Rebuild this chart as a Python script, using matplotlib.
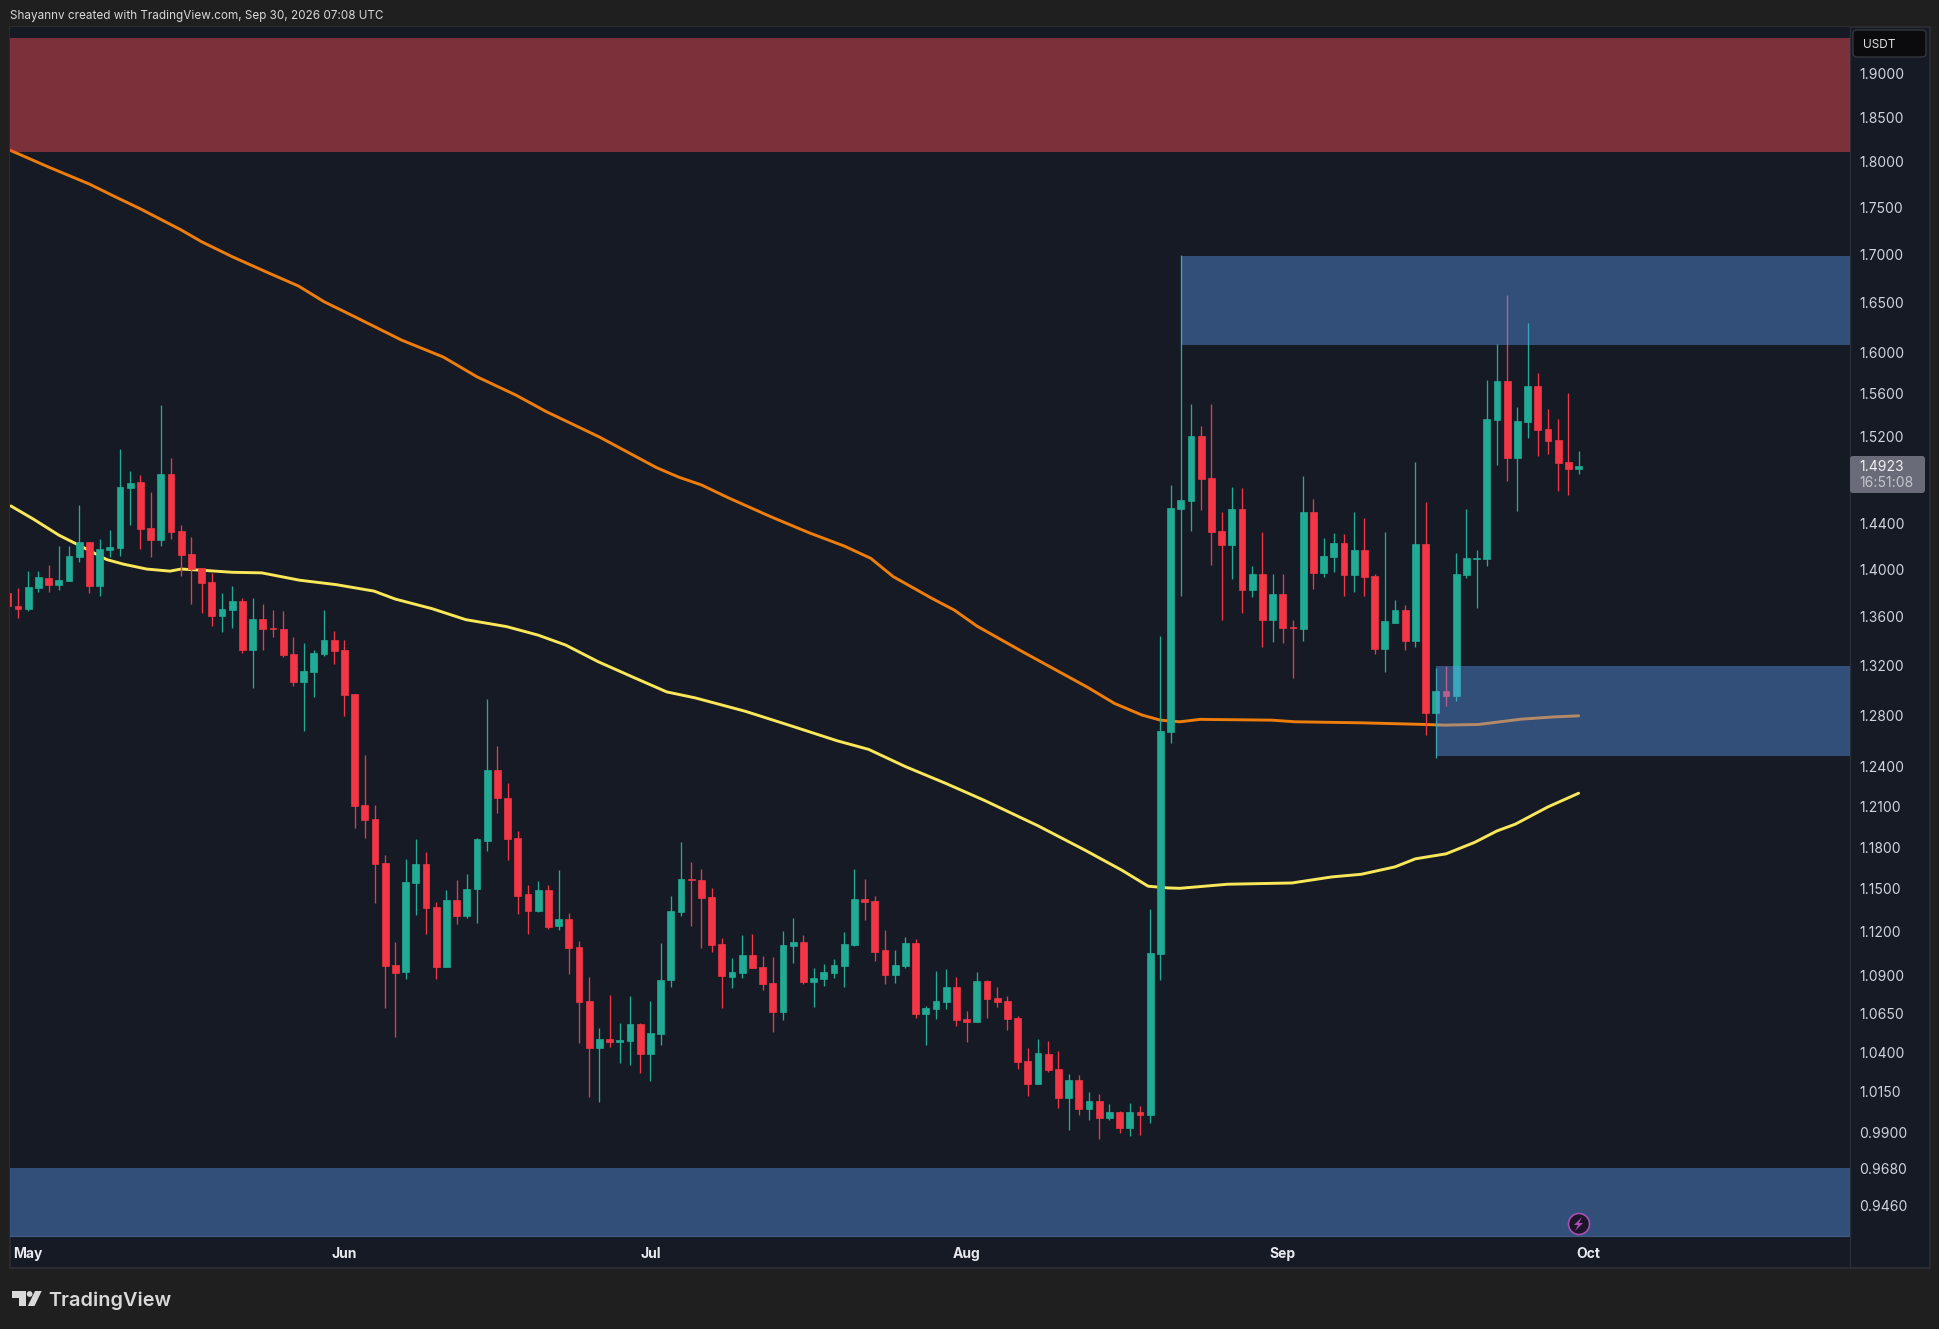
import numpy as np
import matplotlib
matplotlib.use("Agg")
import matplotlib.pyplot as plt
from matplotlib.patches import Rectangle, Polygon, Circle, FancyBboxPatch
from matplotlib.ticker import FixedLocator, FixedFormatter, NullLocator

plt.rcParams['font.family'] = ['Inter', 'DejaVu Sans']

# ---- daily candles, index 2 = 1 May -------------------------------------
opens = [1.380,1.3689,1.3664,1.3842,1.3926,1.3867,1.3901,1.411,1.424,1.3859,
 1.417,1.4187,1.472,1.478,1.436,1.4257,1.485,1.4336,1.4135,1.4012,
 1.3892,1.3605,1.3655,1.3732,1.3323,1.358,1.3504,1.3495,1.329,1.3061,
 1.3142,1.329,1.3405,1.3323,1.2966,1.2109,1.2004,1.1684,1.0973,1.0925,
 1.154,1.1677,1.1372,1.096,1.142,1.131,1.1497,1.1843,1.2374,1.2161,
 1.1865,1.1462,1.1344,1.149,1.124,1.1289,1.1095,1.0732,1.0426,1.0484,
 1.0464,1.0471,1.058,1.0387,1.0515,1.0871,1.1337,1.1568,1.1561,1.1441,
 1.1116,1.0891,1.0919,1.1041,1.096,1.0852,1.066,1.1102,1.113,1.0858,
 1.0878,1.0919,1.0966,1.1109,1.1427,1.1413,1.1075,1.0905,1.0966,1.1123,
 1.0646,1.068,1.0726,1.0825,1.0613,1.0593,1.0865,1.0752,1.0732,1.062,
 1.0343,1.0197,1.0387,1.0291,1.011,1.0221,1.0041,1.0091,.9985,1.0022,
 .9926,1.0022,1.0004,1.1048,1.2667,1.4532,1.4604,1.5201,1.4811,1.4336,
 1.4213,1.4532,1.3825,1.3961,1.3568,1.3791,1.3512,1.3495,1.4505,1.3969,
 1.411,1.4231,1.3952,1.417,1.3944,1.3331,1.3551,1.3655,1.3397,1.4222,
 1.2815,1.2989,1.295,1.3952,1.4092,1.4092,1.5351,1.5725,1.4997,1.5332,
 1.5676,1.5266,1.5164,1.496,1.4896]
closes = [1.369,1.3664,1.385,1.3935,1.3867,1.3909,1.4118,1.424,1.3859,1.4179,
 1.4196,1.473,1.477,1.4352,1.4257,1.485,1.4328,1.4127,1.4003,1.3884,
 1.3605,1.3664,1.3732,1.3323,1.358,1.3495,1.3495,1.3282,1.3061,1.315,
 1.33,1.3405,1.3315,1.2958,1.21,1.1997,1.1677,1.0966,1.0919,1.1547,
 1.1677,1.1365,1.096,1.142,1.131,1.1497,1.1858,1.2374,1.2161,1.1858,
 1.1448,1.1344,1.149,1.1233,1.1289,1.1089,1.0726,1.0426,1.0484,1.0464,
 1.0477,1.058,1.0387,1.0521,1.0871,1.1344,1.1568,1.1561,1.1434,1.1109,
 1.0898,1.0925,1.1041,1.0952,1.0845,1.066,1.1109,1.113,1.0858,1.0885,
 1.0925,1.0973,1.1116,1.1427,1.1406,1.1061,1.0905,1.0973,1.1123,1.0646,
 1.0686,1.0732,1.0825,1.0607,1.0593,1.0865,1.0746,1.0726,1.0613,1.0336,
 1.0197,1.0394,1.0285,1.011,1.0221,1.0041,1.0091,.9985,1.0022,.9926,
 1.0022,1.0004,1.1055,1.2675,1.4541,1.4613,1.5201,1.4802,1.4328,1.4213,
 1.4532,1.3825,1.3961,1.3568,1.3791,1.3504,1.3504,1.4505,1.3969,1.4118,
 1.4231,1.3952,1.417,1.3935,1.3331,1.356,1.3655,1.3397,1.4222,1.2815,
 1.2989,1.295,1.3961,1.4101,1.4101,1.536,1.5725,1.4997,1.5342,1.5676,
 1.5257,1.5155,1.495,1.4896,1.4923]
highs = [1.380,1.3842,1.3991,1.399,1.404,1.4205,1.4208,1.4568,1.4243,1.4266,
 1.4345,1.508,1.4875,1.484,1.4685,1.5494,1.4993,1.439,1.4284,1.4012,
 1.3969,1.380,1.3859,1.3757,1.3757,1.3706,1.3655,1.3647,1.343,1.338,
 1.3323,1.3655,1.3478,1.3405,1.2966,1.2488,1.2109,1.1742,1.113,1.1713,
 1.1858,1.1763,1.1406,1.149,1.1561,1.1604,1.1865,1.2926,1.2558,1.2273,
 1.1916,1.1526,1.1554,1.1526,1.1633,1.133,1.1136,1.0891,1.0554,1.0772,
 1.0587,1.0765,1.0587,1.0732,1.1123,1.1448,1.1836,1.1691,1.164,1.1504,
 1.1157,1.102,1.1177,1.1184,1.1034,1.1027,1.1205,1.1296,1.1177,1.0952,
 1.0979,1.1014,1.1198,1.164,1.1568,1.1448,1.1212,1.1075,1.1164,1.115,
 1.0699,1.0932,1.0945,1.0891,1.0666,1.0925,1.0871,1.0825,1.0765,1.0633,
 1.0426,1.0484,1.0471,1.0407,1.0259,1.0252,1.0147,1.0134,1.0072,1.0028,
 1.0078,1.006,1.1357,1.3438,1.4752,1.6994,1.5504,1.5295,1.5504,1.4505,
 1.473,1.4721,1.4031,1.4328,1.3961,1.3961,1.3576,1.483,1.4622,1.4275,
 1.4319,1.431,1.4505,1.4451,1.3961,1.4328,1.374,1.3698,1.496,1.4595,
 1.3175,1.3192,1.4144,1.4532,1.417,1.5734,1.6087,1.6581,1.5475,1.6296,
 1.5801,1.5456,1.536,1.561,1.5062]
lows = [1.369,1.3592,1.3647,1.3811,1.3808,1.3825,1.3901,1.4065,1.3804,1.3774,
 1.411,1.4118,1.439,1.4179,1.411,1.4205,1.4266,1.3943,1.3706,1.363,
 1.352,1.3471,1.3504,1.330,1.3014,1.3323,1.343,1.3266,1.303,1.2674,
 1.2942,1.3274,1.321,1.2791,1.1938,1.1865,1.1399,1.0686,1.0496,1.0878,
 1.1317,1.1184,1.0878,1.096,1.1254,1.1296,1.1261,1.177,1.205,1.1706,
 1.1324,1.1184,1.1337,1.1219,1.1212,1.0912,1.0458,1.0116,1.0085,1.0432,
 1.033,1.0317,1.0265,1.0215,1.0445,1.0825,1.131,1.124,1.1089,1.1061,
 1.0686,1.0818,1.0885,1.0952,1.0805,1.0528,1.0607,1.0986,1.0845,1.0693,
 1.0832,1.0885,1.0825,1.1102,1.1282,1.1,1.0845,1.0852,1.0952,1.062,
 1.0445,1.0613,1.068,1.0567,1.0464,1.0593,1.062,1.0693,1.0541,1.0291,
 1.0122,1.0197,1.0271,1.0047,.9914,1.0004,.9973,.9858,.9973,.9895,
 .9877,.9883,.9955,1.0871,1.258,1.3774,1.4336,1.4523,1.404,1.3576,
 1.3918,1.363,1.3766,1.3348,1.3389,1.338,1.3094,1.3397,1.3833,1.3935,
 1.3978,1.3774,1.3808,1.3774,1.329,1.3142,1.3543,1.3323,1.3348,1.2642,
 1.2465,1.2871,1.291,1.3926,1.3672,1.4031,1.4933,1.4784,1.4514,1.5183,
 1.5015,1.5034,1.4694,1.4658,1.485]

# ---- moving averages, read at these candle positions --------------------
ma_orange_x = [0,4,8,10.5,13,17,19,22,25.5,28.5,31,34,38.6,42.7,46,49.8,52.8,58,63.6,65.8,
 68,70.7,74.8,78.6,82,84.6,86.8,90.6,92.8,95,99.6,101.4,105.9,108.5,111.2,113,114.9,116.9,
 123.9,126.2,132.7,138.9,140.9,144.2,148.4,151.7,154]
ma_orange_y = [1.8139,1.7941,1.7754,1.7617,1.7485,1.7259,1.7134,1.6977,1.6811,1.6673,1.6513,1.6361,
 1.6127,1.5959,1.5766,1.5590,1.5431,1.5192,1.4908,1.4820,1.4750,1.4631,1.4464,1.4320,1.4205,1.4098,
 1.3940,1.3754,1.3655,1.3522,1.3304,1.3222,1.3019,1.2892,1.2800,1.2760,1.2747,1.2766,1.2760,1.2747,
 1.2739,1.2726,1.2721,1.2726,1.2768,1.2786,1.2794]
ma_yellow_x = [0.3,2.5,5,7.7,9.7,11.3,13.6,15.9,17,19.5,22,24.9,28.6,32.2,35.9,38,41.6,44.9,48.9,52,
 54.7,57.9,61.5,64.6,67.4,72.3,76.8,81.3,84.4,88,92,95.7,101,105.6,109.2,111.8,113.7,114.9,119.6,
 125.9,129.8,132.7,136,138,141,143.8,146,147.8,151,154]
ma_yellow_y = [1.4560,1.4443,1.4301,1.4179,1.4087,1.4048,1.4005,1.3987,1.4005,1.3992,1.3977,1.3972,
 1.3909,1.3871,1.3816,1.3748,1.3667,1.3575,1.3517,1.3446,1.3364,1.3227,1.3095,1.2984,1.2936,1.2830,
 1.2715,1.2599,1.2532,1.2400,1.2271,1.2146,1.1956,1.1778,1.1634,1.1519,1.1507,1.1504,1.1533,1.1542,
 1.1585,1.1604,1.1657,1.1715,1.1751,1.1834,1.1918,1.1968,1.2096,1.2198]

# ---- price zones --------------------------------------------------------
red_zone = (1.8109, 1.9426)
blue_upper = (115, 1.6078, 1.6984)
blue_middle = (140, 1.2481, 1.3193)
blue_lower = (0.9279, 0.9684)

# ---- axis labels --------------------------------------------------------
price_ticks = [1.9,1.85,1.8,1.75,1.7,1.65,1.6,1.56,1.52,1.44,1.40,1.36,1.32,1.28,1.24,1.21,
               1.18,1.15,1.12,1.09,1.065,1.04,1.015,0.99,0.968,0.946]
month_pos = [2,33,63,94,125,155]
month_labels = ['May','Jun','Jul','Aug','Sep','Oct']
last_price = '1.4923'
countdown = '16:51:08'

W, H = 1940, 1329
BG, PANEL, BORDER = '#1f1f1f', '#151a25', '#2a2e39'
UP, DOWN = '#22ab94', '#f23645'
ZONE_B, ZONE_R = '#60a0fa', '#f24a50'

fig = plt.figure(figsize=(W/100, H/100), dpi=100, facecolor=BG)
fx = lambda x: x/W
fy = lambda y: 1-y/H
def frect(x0, y0, x1, y1, **kw):
    fig.add_artist(Rectangle((fx(x0), fy(y1)), (x1-x0)/W, (y1-y0)/H, transform=fig.transFigure, **kw))
def pxcircle(x, y, r, **kw):
    fig.add_artist(Circle((x/100, (H-y)/100), r/100, transform=fig.dpi_scale_trans, **kw))

frect(10, 27, 1930, 1268, facecolor=PANEL, edgecolor='#2b2b2f', linewidth=1.5, zorder=-1)

ax = fig.add_axes([fx(10), fy(1236), 1840/W, 1209/H], facecolor=PANEL)
ax.set_yscale('log')
x0_idx = 1 - 8/10.2
x1_idx = 1 + 1832/10.2
ax.set_xlim(x0_idx, x1_idx)
ax.set_ylim(0.92857, 1.9558)

idx = np.arange(len(opens))
o, h, l, c = map(np.array, (opens, highs, lows, closes))
colors = np.where(c >= o, UP, DOWN)
ax.plot(ma_orange_x, ma_orange_y, color='#ef7d0a', lw=2.1, zorder=2, solid_capstyle='round')
ax.plot(ma_yellow_x, ma_yellow_y, color='#fbe75a', lw=2.1, zorder=2, solid_capstyle='round')
ax.vlines(idx, l, h, colors=colors, lw=0.95, zorder=3)
ax.bar(idx, np.abs(c-o), bottom=np.minimum(o, c), width=0.68, color=colors, edgecolor=colors, lw=0.5, zorder=4)

ax.fill_between([x0_idx, x1_idx], *red_zone, color=ZONE_R, alpha=0.47, lw=0, zorder=5)
ax.fill_between([blue_upper[0], x1_idx], blue_upper[1], blue_upper[2], color=ZONE_B, alpha=0.4, lw=0, zorder=5)
ax.fill_between([blue_middle[0], x1_idx], blue_middle[1], blue_middle[2], color=ZONE_B, alpha=0.4, lw=0, zorder=5)
ax.fill_between([x0_idx, x1_idx], *blue_lower, color=ZONE_B, alpha=0.4, lw=0, zorder=5)

for s in ('top', 'left'):
    ax.spines[s].set_visible(False)
for s in ('bottom', 'right'):
    ax.spines[s].set_color(BORDER)
    ax.spines[s].set_linewidth(1)
ax.yaxis.tick_right()
ax.yaxis.set_major_locator(FixedLocator(price_ticks))
ax.yaxis.set_major_formatter(FixedFormatter([f'{p:.4f}' for p in price_ticks]))
ax.yaxis.set_minor_locator(NullLocator())
ax.tick_params(axis='y', which='major', length=0, pad=6.6, labelsize=10, labelcolor='#d1d4dc')
ax.set_xticks(month_pos, month_labels)
ax.tick_params(axis='x', length=0, pad=7.6, labelsize=10, labelcolor='#e8e9ee')
for t in ax.get_xticklabels():
    t.set_fontweight('bold')

# vertical divider continues through the time scale
fig.add_artist(plt.Line2D([fx(1850)]*2, [fy(1236), fy(1268)], color=BORDER, lw=1, transform=fig.transFigure))

# header and footer
fig.text(fx(10), fy(15.5), 'Shayannv created with TradingView.com, Sep 30, 2026 07:08 UTC',
         color='#d8d8d8', fontsize=8.45, va='center', ha='left')

# currency box
fig.add_artist(FancyBboxPatch((fx(1853), fy(57)), 73/W, 27/H, transform=fig.transFigure,
                              boxstyle='round,pad=0,rounding_size=0.002', mutation_aspect=1.46,
                              facecolor='#0b0b0d', edgecolor='#35373d', linewidth=1, zorder=5))
fig.text(fx(1863), fy(45), 'USDT', color='#e0e0e0', fontsize=8.5, va='center', ha='left', zorder=6)

# last price box
fig.add_artist(FancyBboxPatch((fx(1850), fy(493)), 75/W, 37/H, transform=fig.transFigure,
                              boxstyle='round,pad=0,rounding_size=0.0015', mutation_aspect=1.46,
                              facecolor='#696c78', edgecolor='none', zorder=5))
fig.text(fx(1859), fy(467), last_price, color='#f0f0f2', fontsize=10, va='center', ha='left', zorder=6)
fig.text(fx(1859), fy(483), countdown, color='#c3c4cc', fontsize=10, va='center', ha='left', zorder=6)

# event badge
pxcircle(1579, 1224, 10.5, facecolor='#1c1526', edgecolor='#a64fb5', linewidth=1.2, zorder=6)
bolt = [(1582,1217),(1574,1225),(1578,1225),(1575,1231),(1583,1223),(1579,1223)]
fig.add_artist(Polygon([(fx(a), fy(b)) for a, b in bolt], closed=True, transform=fig.transFigure,
                       facecolor='#a64fb5', edgecolor='none', zorder=7))

# logo
logo = [[(12,1291),(26,1291),(26,1306),(19,1306),(19,1298),(12,1298)],
        [(35,1291),(41.7,1291),(34.5,1306),(27.8,1306)]]
for poly in logo:
    fig.add_artist(Polygon([(fx(a), fy(b)) for a, b in poly], closed=True, transform=fig.transFigure,
                           facecolor='#d9d9d9', edgecolor='none', zorder=3))
pxcircle(29.6, 1294, 2.9, facecolor='#d9d9d9', edgecolor='none', zorder=3)
fig.text(fx(48.5), fy(1306), 'TradingView', color='#d9d9d9', fontsize=14.3, fontweight='semibold',
         va='baseline', ha='left')

fig.savefig('out.png', dpi=100, facecolor=BG)
